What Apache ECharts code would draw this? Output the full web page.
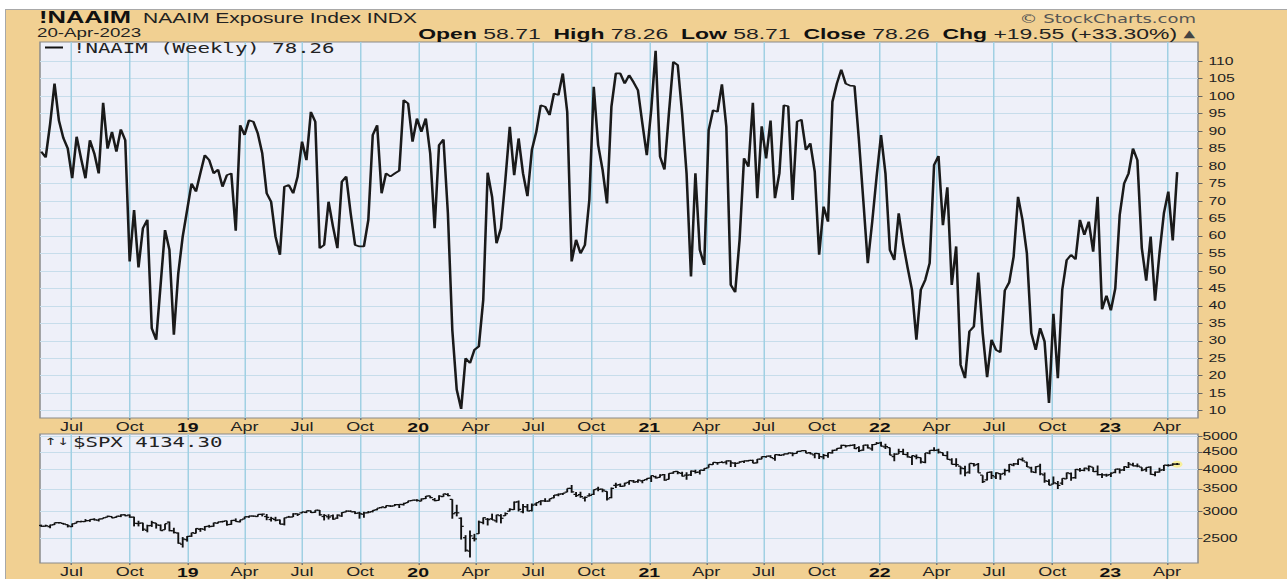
<!DOCTYPE html>
<html>
<head>
<meta charset="utf-8">
<script src="https://cdn.jsdelivr.net/npm/echarts@6.0.0/dist/echarts.min.js"></script>
<style>
html, body { margin:0; padding:0; background:#ffffff; overflow:hidden; width:1287px; height:579px; }
#frame { position:absolute; left:5px; top:9px; width:1290px; height:580px; background:#F1D092; border-left:1px solid #a8a8a8; border-top:1px solid #a8a8a8; }
#chart { position:absolute; left:0; top:0; width:858px; height:579px; transform:scaleX(1.5); transform-origin:0 0; }
</style>
</head>
<body>
<div id="frame"></div>
<div id="chart"></div>
<script>
// ---------------- data ----------------
const firstWeek = '2018-05-14';          // first weekly bar
const axisStart = '2018-05-12';
const axisEnd = '2023-05-20';
const quarterTicks = ['2018-07-01','2018-10-01','2019-01-01','2019-04-01','2019-07-01','2019-10-01',
  '2020-01-01','2020-04-01','2020-07-01','2020-10-01','2021-01-01','2021-04-01','2021-07-01','2021-10-01',
  '2022-01-01','2022-04-01','2022-07-01','2022-10-01','2023-01-01','2023-04-01'];
const naaimTicks = [10,15,20,25,30,35,40,45,50,55,60,65,70,75,80,85,90,95,100,105,110];
const spxTicks = [2500,3000,3500,4000,4500,5000];

const naaim = [
  84.1,82.5,92,103.6,93,88,85,76.5,88.4,82.2,
  76.5,87.4,83.6,77.9,98.1,85,89.8,84.1,90.5,87.4,
  52.7,67.4,51,62.2,64.6,33.6,30.3,46,61.7,56,
  31.7,49.3,59.8,67.4,75,72.7,78,83.1,81.7,77.9,
  79,74.1,77.4,77.9,61.5,91.7,88.9,93.1,92.7,89.3,
  83.6,72.2,69.8,59.8,54.6,74.1,74.6,72.2,77,87,
  81.7,95.5,92.7,56.5,57.4,69.8,62.7,56.5,75.5,77,
  66.5,57.4,57,57,64.6,88.9,91.7,72.2,77.9,77,
  77.9,78.7,98.9,97.9,87,93.6,89.8,93.6,83.6,62.2,
  86,87.6,66.5,33.1,16,10.5,25,23.6,27.4,28.4,
  41.7,78.1,71.2,57.9,62.2,76,91.2,77.4,87.9,77.9,
  71.4,84.6,89.8,97.4,97,94.6,100.8,100.3,106.5,95.5,
  52.7,58.9,55,57.4,70.3,102.7,86,78.9,69.3,97,
  106.5,106.5,103.6,106,104,101.7,92.2,83.1,96,113,
  82.7,79,95,109.8,108.9,95,77.9,48.4,77.9,56,
  51.7,90.3,96,95.5,103.4,91.2,46,43.9,58.9,82.2,
  79.8,98.1,70.8,91.4,82.2,93,70.8,77.9,97.4,97.1,
  70.3,92.7,93.3,84.6,86.5,78.4,54.6,68.4,64.1,98.4,
  103.6,107.6,103.6,103,102.9,87.4,70,52.2,64,77,
  88.9,77.9,56,53.1,66.5,57.9,51,44.6,30.3,44.6,
  47.4,52.2,80.3,82.9,63.1,73.9,46,57,23.1,19.3,
  32.7,34.1,49.5,32.2,19.6,30.3,27.4,26.7,44.4,46.7,
  54.1,71.2,64.6,55,32.2,27.4,33.6,29.8,12.2,37.7,
  19.3,44.6,53.1,54.6,53.3,64.6,60.3,64.1,55.5,71.2,
  39,42.9,38.7,45,66,75,77.9,85,81.7,56.5,
  47.2,59.8,41.5,55,66.5,72.7,58.71,78.26
];

const spxOpen = [
  2727,2713,2705,2741,2779,2766,2742,2705,2768,2798,2800,2819,2843,2827,2853,2884,2897,2881,2903,2933,2926,2886,2763,2773,2640,2726,2773,2730,2649,2790,2630,2590,2401,2476,
  2535,2585,2657,2658,2713,2712,2769,2798,2814,2747,2823,2796,2848,2893,2908,2898,2941,2898,2840,2841,2830,2751,2885,2889,2952,2971,2980,3012,2981,3024,2898,2893,2913,2866,2909,2989,3005,2994,2968,2944,2973,2996,3035,3078,3081,3118,3117,3144,3141,3183,3227,3240,
  3217,3271,3333,3248,3236,3318,3370,3257,2974,2864,2509,2291,2499,2578,2782,2846,2854,2815,2915,2913,3005,3038,3199,2993,3095,3018,3155,3205,3224,3219,3289,3356,3380,3418,3509,3370,3363,3285,3334,3367,3500,3493,3441,3296,3583,3600,3566,3654,3694,3675,3693,3723,
  3764,3803,3781,3855,3732,3892,3939,3885,3842,3844,3942,3916,3969,4034,4125,4180,4186,4192,4228,4169,4168,4217,4229,4248,4173,4284,4356,4372,4297,4410,4407,4437,4461,4450,4514,4535,4474,4406,4442,4348,4385,4464,4554,4610,4701,4689,4712,4628,4548,4710,4588,4733,
  4778,4655,4632,4357,4432,4505,4412,4332,4354,4328,4188,4462,4541,4547,4474,4385,4256,4130,4081,4013,3919,4152,4134,3838,3715,3920,3792,3880,3883,3966,4113,4142,4269,4195,4034,3910,4084,3849,3682,3610,3625,3638,3740,3881,3777,3978,3966,4005,4052,3939,3854,3843,
  3853,3911,3999,3979,4049,4119,4091,4053,3992,4055,3855,3917,3982,4102,4110,4140
];
const spxHigh = [
  2742,2742,2742,2779,2790,2774,2746,2764,2804,2816,2848,2843,2864,2853,2877,2916,2900,2908,2941,2940,2939,2894,2816,2779,2741,2815,2775,2746,2760,2800,2685,2601,2520,2538,
  2597,2675,2681,2716,2738,2780,2795,2814,2817,2831,2861,2836,2894,2911,2917,2940,2954,2948,2892,2892,2840,2876,2910,2964,2956,2996,3014,3018,3028,3029,2945,2943,2939,2940,2985,3021,3022,3002,2993,2993,3008,3027,3068,3098,3121,3127,3154,3150,3183,3226,3247,3259,
  3275,3330,3338,3285,3348,3385,3393,3260,3137,2882,2553,2637,2576,2819,2880,2869,2955,2934,2945,2980,3068,3211,3233,3155,3154,3165,3186,3235,3280,3272,3352,3387,3399,3509,3588,3425,3428,3320,3393,3482,3550,3502,3443,3529,3646,3628,3644,3699,3712,3726,3711,3760,
  3827,3823,3860,3870,3887,3937,3950,3929,3914,3960,3983,3978,4020,4130,4192,4195,4218,4238,4238,4188,4219,4234,4255,4262,4286,4356,4372,4393,4415,4429,4440,4470,4481,4513,4546,4536,4492,4465,4457,4429,4475,4560,4608,4718,4714,4718,4744,4672,4713,4732,4741,4808,
  4819,4749,4632,4453,4595,4590,4490,4385,4416,4331,4465,4546,4637,4593,4475,4513,4308,4308,4081,4090,4158,4168,4168,3838,3914,3945,3918,3880,4013,4140,4167,4280,4325,4204,4062,4077,4149,3907,3736,3807,3690,3762,3906,3911,4001,4029,4034,4101,4052,4101,3888,3878,
  3906,4003,4015,4078,4195,4176,4156,4053,4048,4079,3937,4039,4110,4134,4163,4169
];
const spxLow = [
  2701,2707,2676,2736,2765,2742,2691,2698,2768,2789,2795,2796,2821,2802,2853,2884,2864,2874,2886,2903,2874,2710,2710,2628,2603,2700,2670,2631,2649,2621,2583,2409,2347,2444,
  2524,2580,2612,2631,2687,2704,2766,2782,2723,2739,2797,2785,2848,2873,2891,2894,2900,2826,2801,2805,2750,2728,2880,2888,2908,2964,2966,2970,2973,2914,2822,2840,2834,2853,2891,2985,2990,2946,2856,2874,2963,2983,3024,3067,3077,3091,3115,3070,3125,3183,3224,3210,
  3214,3263,3281,3214,3234,3315,3328,2855,2901,2478,2281,2192,2447,2575,2749,2727,2830,2780,2766,2910,2999,3031,2999,2965,3004,3000,3115,3127,3200,3209,3284,3328,3354,3418,3405,3310,3292,3209,3323,3354,3440,3419,3233,3280,3518,3543,3561,3594,3645,3648,3636,3708,
  3663,3750,3781,3694,3725,3874,3865,3805,3723,3819,3884,3853,3955,4034,4118,4118,4176,4128,4057,4061,4167,4168,4210,4165,4165,4280,4321,4321,4233,4372,4385,4425,4367,4447,4513,4457,4427,4305,4288,4279,4323,4447,4537,4595,4630,4672,4585,4495,4531,4600,4531,4733,
  4662,4582,4395,4222,4430,4401,4332,4115,4279,4157,4161,4424,4517,4450,4381,4268,4128,4062,3859,3811,3875,4074,3900,3637,3705,3740,3743,3721,3830,3910,4080,4112,4218,4057,3906,3886,3838,3647,3584,3610,3492,3591,3738,3698,3749,3929,3944,3940,3919,3827,3764,3796,
  3794,3888,3885,3949,4031,4080,4048,3943,3928,3847,3809,3908,3951,4069,4096,4114
];
const spxClose = [
  2712,2721,2735,2779,2779,2754,2718,2759,2801,2801,2818,2840,2833,2850,2874,2902,2872,2905,2930,2914,2886,2767,2768,2659,2723,2781,2736,2633,2760,2633,2600,2417,2486,2532,
  2596,2671,2665,2707,2708,2776,2793,2804,2743,2822,2801,2834,2893,2907,2905,2940,2946,2881,2860,2826,2752,2873,2887,2950,2942,2990,3014,2977,3026,2932,2919,2889,2847,2926,2979,3007,2992,2962,2952,2970,2986,3023,3067,3093,3120,3110,3141,3146,3169,3221,3240,3235,
  3265,3330,3295,3226,3328,3380,3338,2954,2972,2711,2305,2541,2489,2790,2875,2837,2831,2930,2864,2955,3044,3194,3041,3098,3009,3130,3185,3225,3216,3271,3351,3373,3397,3508,3427,3341,3319,3298,3348,3477,3483,3465,3270,3509,3585,3558,3638,3699,3663,3709,3703,3756,
  3825,3768,3841,3714,3887,3934,3907,3811,3842,3943,3913,3975,4020,4129,4185,4180,4181,4233,4174,4156,4204,4230,4247,4166,4281,4352,4370,4327,4412,4395,4437,4468,4441,4509,4535,4459,4433,4455,4357,4391,4471,4545,4605,4697,4683,4698,4595,4538,4712,4620,4725,4766,
  4677,4663,4398,4432,4501,4419,4349,4385,4329,4204,4463,4543,4546,4488,4393,4272,4132,4123,4024,3901,4158,4109,3901,3675,3912,3825,3899,3863,3962,4130,4145,4280,4228,4058,3924,4067,3873,3693,3586,3640,3583,3753,3901,3771,3993,3965,4026,4072,3934,3852,3845,3840,
  3895,3999,3973,4071,4136,4090,4079,3970,4046,3862,3917,3971,4109,4105,4138,4134.3
];

// ---------------- helpers ----------------
const SX = 1.5;                     // the reference raster is stretched horizontally
const X = v => v / SX;              // real px -> inner px
function ts(s) { const p = s.split('-').map(Number); return new Date(p[0], p[1] - 1, p[2]).getTime(); }
const n = naaim.length;
[spxOpen, spxHigh, spxLow, spxClose].forEach((a, k) => {
  if (a.length !== n) throw new Error('length mismatch in SPX array ' + k + ': ' + a.length + ' vs ' + n);
});
const fw = firstWeek.split('-').map(Number);
const weekDates = naaim.map((_, i) => new Date(fw[0], fw[1] - 1, fw[2] + 7 * i).getTime());
const naaimData = weekDates.map((t, i) => [t, naaim[i]]);
const spxData = weekDates.map((t, i) => [t, spxOpen[i], spxHigh[i], spxLow[i], spxClose[i]]);
const quarterTs = quarterTicks.map(ts);
const monthNames = ['Jan','Feb','Mar','Apr','May','Jun','Jul','Aug','Sep','Oct','Nov','Dec'];
function xLabel(v) {
  const d = new Date(v); const m = d.getMonth();
  if (m === 0) return '{y|' + String(d.getFullYear()).slice(2) + '}';
  return monthNames[m];
}

const PANEL = '#EEF0F9', HGRID = '#C7DDEB', VGRID = '#A0D0E3', BORDER = '#8a8a8a';
const FONT = '"Liberation Sans", Arial, sans-serif';
const MONO = '"DejaVu Sans Mono", monospace';

function xAxis(gridIndex) {
  return {
    type: 'value', gridIndex, min: ts(axisStart), max: ts(axisEnd),
    axisLine: { show: false },
    axisTick: { show: true, customValues: quarterTs, length: 2, lineStyle: { color: '#777' } },
    axisLabel: {
      customValues: quarterTs, formatter: xLabel, color: '#222', fontSize: 12, fontFamily: FONT, margin: 3,
      rich: { y: { fontWeight: 'bold', fontSize: 13, color: '#111', fontFamily: FONT } }
    },
    splitLine: { show: true, lineStyle: { color: VGRID, width: 1 } }
  };
}

function renderOHLC(params, api) {
  const t = api.value(0);
  const pO = api.coord([t, api.value(1)]);
  const pH = api.coord([t, api.value(2)]);
  const pL = api.coord([t, api.value(3)]);
  const pC = api.coord([t, api.value(4)]);
  const tick = X(2.6);
  const st = { stroke: '#111', lineWidth: 1.25 };
  return { type: 'group', children: [
    { type: 'line', shape: { x1: pH[0], y1: pH[1], x2: pL[0], y2: pL[1] }, style: st },
    { type: 'line', shape: { x1: pO[0] - tick, y1: pO[1], x2: pO[0], y2: pO[1] }, style: st },
    { type: 'line', shape: { x1: pC[0], y1: pC[1], x2: pC[0] + tick, y2: pC[1] }, style: st }
  ]};
}

const gridLeft = X(40), gridRight = 858 - X(1198);
const chart = echarts.init(document.getElementById('chart'), null, { renderer: 'svg' });
chart.setOption({
  animation: false,
  backgroundColor: 'transparent',
  grid: [
    { left: gridLeft, right: gridRight, top: 42, height: 376, show: true, backgroundColor: PANEL, borderColor: BORDER, borderWidth: 1 },
    { left: gridLeft, right: gridRight, top: 434, height: 131, show: true, backgroundColor: PANEL, borderColor: BORDER, borderWidth: 1 }
  ],
  xAxis: [xAxis(0), xAxis(1)],
  yAxis: [
    {
      type: 'value', gridIndex: 0, position: 'right', min: 7.9, max: 115.5,
      axisLine: { show: false },
      axisTick: { show: true, customValues: naaimTicks, length: 3, lineStyle: { color: '#666' } },
      axisLabel: { customValues: naaimTicks, color: '#222', fontSize: 10.5, fontFamily: FONT, margin: 7 },
      splitLine: { show: true, lineStyle: { color: HGRID, width: 1 } }
    },
    {
      type: 'log', logBase: 10, gridIndex: 1, position: 'right', min: 2113, max: 5078,
      axisLine: { show: false },
      axisTick: { show: true, customValues: spxTicks, length: 3, lineStyle: { color: '#666' } },
      axisLabel: { customValues: spxTicks, formatter: v => String(Math.round(v)), color: '#222', fontSize: 10.5, fontFamily: FONT, margin: 3 },
      splitLine: { show: true, lineStyle: { color: HGRID, width: 1 } }
    }
  ],
  series: [
    {
      type: 'line', xAxisIndex: 0, yAxisIndex: 0, data: naaimData, showSymbol: false, clip: true,
      lineStyle: { color: '#1a1a1a', width: 1.7 }, z: 5
    },
    {
      type: 'scatter', xAxisIndex: 1, yAxisIndex: 1, data: [[weekDates[n - 1], spxClose[n - 1]]],
      symbolSize: 7, itemStyle: { color: 'rgba(255,238,90,0.75)' }, z: 1, silent: true
    },
    {
      type: 'custom', xAxisIndex: 1, yAxisIndex: 1, data: spxData, renderItem: renderOHLC,
      encode: { x: 0, y: [1, 2, 3, 4] }, clip: true, z: 3
    }
  ],
  graphic: [
    { type: 'text', x: X(39), y: 17, z: 100, style: { text: '!NAAIM', fill: '#111', fontSize: 17, fontWeight: 'bold', fontFamily: FONT, textVerticalAlign: 'middle' } },
    { type: 'text', x: X(143), y: 18, z: 100, style: { text: 'NAAIM Exposure Index INDX', fill: '#222', fontSize: 14, fontFamily: FONT, textVerticalAlign: 'middle' } },
    { type: 'text', x: X(37), y: 33, z: 100, style: { text: '20-Apr-2023', fill: '#222', fontSize: 12.5, fontFamily: FONT, textVerticalAlign: 'middle' } },
    { type: 'text', x: X(1196), y: 19, z: 100, style: { text: '\u00A9 StockCharts.com', fill: '#555', fontSize: 12, fontFamily: '"DejaVu Sans", sans-serif', textAlign: 'right', textVerticalAlign: 'middle' } },
    { type: 'text', x: X(1195), y: 33.5, z: 100, style: {
        text: '{b|Open} 58.71  {b|High} 78.26  {b|Low} 58.71  {b|Close} 78.26  {b|Chg} +19.55 (+33.30%) {t|\u25B2}',
        fill: '#222', fontSize: 15.3, fontFamily: FONT, textAlign: 'right', textVerticalAlign: 'middle',
        rich: { b: { fontWeight: 'bold', fontSize: 15.3, fontFamily: FONT, fill: '#111' }, t: { fontSize: 10, fill: '#444', fontFamily: '"DejaVu Sans", sans-serif' } } } },
    { type: 'line', z: 100, shape: { x1: X(45), y1: 47.5, x2: X(63), y2: 47.5 }, style: { stroke: '#111', lineWidth: 2 } },
    { type: 'text', x: X(73), y: 48, z: 100, style: { text: '!NAAIM (Weekly) 78.26', fill: '#222', fontSize: 13.8, fontFamily: MONO, textVerticalAlign: 'middle' } },
    { type: 'text', x: X(44), y: 441.5, z: 100, style: { text: '\u2191\u2193', fill: '#222', fontSize: 10, fontFamily: '"DejaVu Sans", sans-serif', textVerticalAlign: 'middle' } },
    { type: 'text', x: X(73), y: 442, z: 100, style: { text: '$SPX 4134.30', fill: '#222', fontSize: 13.8, fontFamily: MONO, textVerticalAlign: 'middle' } }
  ]
});
</script>
</body>
</html>
